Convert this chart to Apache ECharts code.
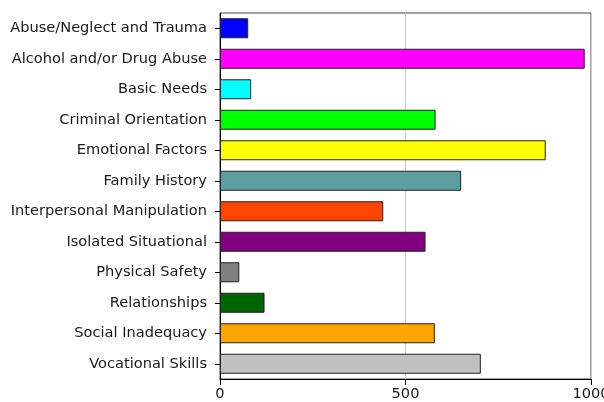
<!DOCTYPE html>
<html><head><meta charset="utf-8">
<script src="https://cdn.jsdelivr.net/npm/echarts@6/dist/echarts.min.js"></script>
<style>html,body{margin:0;padding:0;background:#fff}#c{width:604px;height:402px}</style>
</head><body><div id="c"></div>
<script>
const categories = ["Abuse/Neglect and Trauma","Alcohol and/or Drug Abuse","Basic Needs","Criminal Orientation","Emotional Factors","Family History","Interpersonal Manipulation","Isolated Situational","Physical Safety","Relationships","Social Inadequacy","Vocational Skills"];
const values = [76, 983, 84, 581, 878, 650, 440, 554, 52, 120, 579, 703];
const barColors = ["#0000FF","#FF00FF","#00FFFF","#00FF00","#FFFF00","#5F9EA0","#FF4500","#800080","#808080","#006400","#FFA500","#C0C0C0"];
const xTicks = [0, 500, 1000];

const chart = echarts.init(document.getElementById('c'), null, {renderer:'canvas'});
const font = {fontFamily:'DejaVu Sans', fontSize:14.6, color:'#1a1a1a'};
chart.setOption({
  animation:false,
  grid:{left:220, top:13, right:13, bottom:23, show:true, borderColor:'#444', borderWidth:1,
        backgroundColor:'transparent', containLabel:false, outerBoundsMode:'none'},
  xAxis:{type:'value', min:xTicks[0], max:xTicks[xTicks.length-1], interval:500,
    axisLine:{show:true, lineStyle:{color:'#000'}},
    axisTick:{show:true, length:6, lineStyle:{color:'#000'}},
    axisLabel:Object.assign({margin:8, showMaxLabel:true, showMinLabel:true, hideOverlap:false,
      formatter: v => String(v)}, font),
    splitLine:{show:true, lineStyle:{color:'#ccc'}}},
  yAxis:{type:'category', data:categories, inverse:true,
    axisLine:{show:true, lineStyle:{color:'#000'}},
    axisTick:{show:true, length:5, alignWithLabel:true, lineStyle:{color:'#000'}},
    axisLabel:Object.assign({margin:13, interval:0}, font)},
  series:[{type:'bar', barWidth:20,
    data: values.map((v,i)=>({value:v, itemStyle:{color:barColors[i]}})),
    itemStyle:{borderColor:'#222', borderWidth:1}}]
});
</script></body></html>
